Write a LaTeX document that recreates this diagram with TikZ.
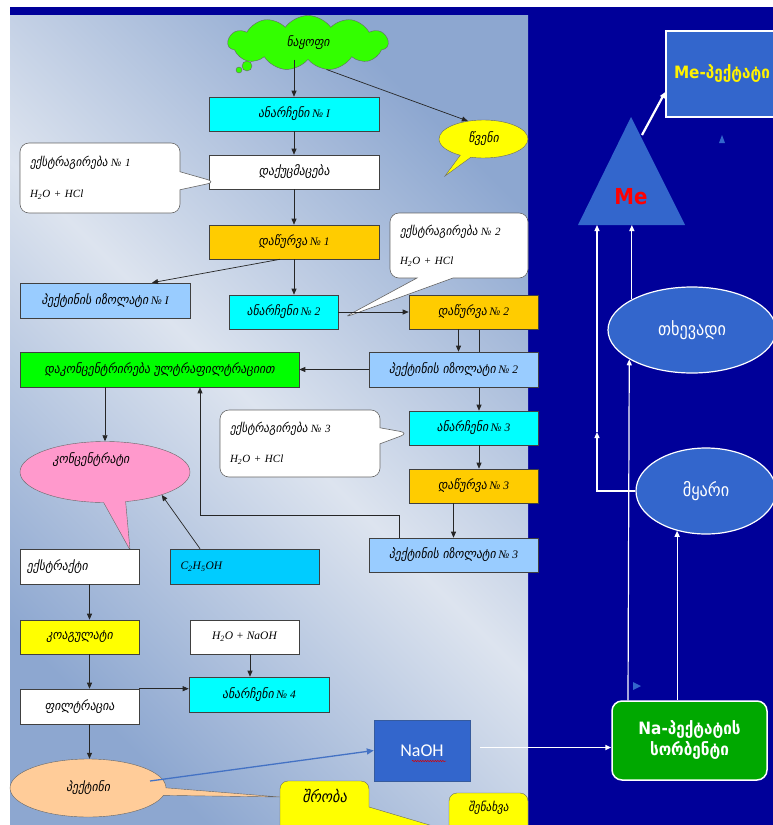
\documentclass[tikz,border=0pt]{standalone}
\usepackage{fontspec}
\setmainfont{Liberation Serif}
\newfontfamily\kafont[FakeSlant=0.18,Scale=1.13]{DejaVu Sans Condensed}
\newfontfamily\kbfont{DejaVu Sans Condensed}
\newfontfamily\calfont{Carlito}
\newcommand\geo[1]{{\kafont\upshape #1}}
\usetikzlibrary{shapes.geometric,shapes.symbols,shapes.callouts,arrows.meta,decorations.pathmorphing}

\definecolor{framenavy}{HTML}{000099}
\definecolor{panelhi}{HTML}{DDE4EF}
\definecolor{panello}{HTML}{8DA7D0}
\definecolor{boxcyan}{HTML}{00FFFF}
\definecolor{boxorange}{HTML}{FFCC00}
\definecolor{boxblue}{HTML}{99CCFF}
\definecolor{boxgreen}{HTML}{00FF00}
\definecolor{cloudgreen}{HTML}{33FF00}
\definecolor{boxpink}{HTML}{FF99CC}
\definecolor{boxpeach}{HTML}{FFCC99}
\definecolor{boxsky}{HTML}{00CCFF}
\definecolor{boxyellow}{HTML}{FFFF00}
\definecolor{midblue}{HTML}{3366CC}
\definecolor{nagreen}{HTML}{00A800}
\definecolor{linkblue}{HTML}{4472C4}

\pgfdeclarelayer{back}
\pgfsetlayers{back,main}

\tikzset{
  box/.style={draw=black!75, line width=0.6pt, inner sep=3pt, font=\itshape\fontsize{11.5}{13}\selectfont},
  note/.style={rectangle callout, rounded corners=9pt, draw=black!60, fill=white, line width=0.6pt,
    font=\itshape\fontsize{11}{13}\selectfont, align=left, inner xsep=10pt},
  arr/.style={-{Triangle[length=6pt,width=5pt]}, draw=black!85, line width=0.7pt},
  warr/.style={-{Triangle[length=6pt,width=5pt]}, draw=white, line width=1.2pt},
  bub/.style={ellipse, draw=white, line width=1.2pt, fill=midblue, text=white, font=\kbfont\fontsize{18}{20}\selectfont},
}

\begin{document}
\begin{tikzpicture}[x=1pt,y=-1pt]
\useasboundingbox (0,0) rectangle (773,825);

% frame and left panel
\begin{pgfonlayer}{back}
  \fill[framenavy] (10,7) rectangle (773,825);
  \shade[top color=panello, bottom color=panello, middle color=panelhi, shading angle=-45] (10,15) rectangle (528,825);
\end{pgfonlayer}

% fruit and juice
\node[cloud, cloud puffs=11, cloud puff arc=110, aspect=3, fill=cloudgreen, draw=black!60, minimum width=160pt,
  minimum height=55pt, inner sep=0pt, font=\itshape\fontsize{11.5}{13}\selectfont] (fruit) at (308,43) {\geo{ნაყოფი}};
\filldraw[fill=cloudgreen, draw=black!60] (247,66) circle (5) (239,70) circle (3);
\coordinate (p0) at (445,176);
\node[ellipse callout, callout absolute pointer={(p0)}, fill=boxyellow, draw=black!60, minimum width=89pt,
  minimum height=38pt, inner sep=0pt, font=\itshape\fontsize{11.5}{13}\selectfont] (juice) at (483.5,139) {\geo{წვენი}};

% first stage
\node[box, fill=boxcyan, minimum width=170pt, minimum height=34pt] (a1) at (294,114) {\geo{ანარჩენი} № I};
\node[box, fill=white, minimum width=170pt, minimum height=34pt] (crush) at (294,172) {\geo{დაქუცმაცება}};
\node[box, fill=boxorange, minimum width=170pt, minimum height=34pt] (d1) at (294,242) {\geo{დაწურვა} № 1};
\node[box, fill=boxblue, minimum width=170pt, minimum height=35pt] (i1) at (105,300.5) {\geo{პექტინის იზოლატი} № I};
\coordinate (p1) at (216,182);
\node[note, callout absolute pointer={(p1)}, callout pointer width=18pt, minimum width=160pt, minimum height=70pt,
  text width=140pt] (x1) at (100,178) {\geo{ექსტრაგირება} № 1\\[18pt]H\textsubscript{2}O + HCl};

% second stage
\node[box, fill=boxcyan, minimum width=109pt, minimum height=34pt] (a2) at (283.5,312) {\geo{ანარჩენი} № 2};
\node[box, fill=boxorange, minimum width=129pt, minimum height=34pt] (d2) at (473.5,312) {\geo{დაწურვა} № 2};
\node[box, fill=boxblue, minimum width=169pt, minimum height=35pt] (i2) at (453.5,369.5) {\geo{პექტინის იზოლატი} № 2};
\node[box, fill=boxgreen, minimum width=279pt, minimum height=35pt] (uf) at (159.5,369.5) {\geo{დაკონცენტრირება ულტრაფილტრაციით}};
\coordinate (p2) at (343,318);
\node[note, callout absolute pointer={(p2)}, callout pointer width=36pt, minimum width=138pt, minimum height=65pt,
  text width=118pt] (x2) at (459,245.5) {\geo{ექსტრაგირება} № 2\\[16pt]H\textsubscript{2}O + HCl};

% third stage
\node[box, fill=boxcyan, minimum width=129pt, minimum height=34pt] (a3) at (473.5,428) {\geo{ანარჩენი} № 3};
\node[box, fill=boxorange, minimum width=129pt, minimum height=34pt] (d3) at (473.5,486) {\geo{დაწურვა} № 3};
\node[box, fill=boxblue, minimum width=169pt, minimum height=34pt] (i3) at (453.5,555) {\geo{პექტინის იზოლატი} № 3};
\coordinate (p3) at (409,433);
\node[note, callout absolute pointer={(p3)}, callout pointer width=16pt, minimum width=160pt, minimum height=67pt,
  text width=140pt] (x3) at (300,443.5) {\geo{ექსტრაგირება} № 3\\[17pt]H\textsubscript{2}O + HCl};

% concentrate to pectin
\coordinate (p4) at (130,550);
\node[ellipse callout, callout absolute pointer={(p4)}, fill=boxpink, draw=black!60, minimum width=170pt,
  minimum height=61pt, label={[xshift=-14pt, yshift=12pt, font=\itshape\fontsize{11.5}{13}\selectfont]center:\geo{კონცენტრატი}}] (konc) at (105,472) {};
\node[box, fill=white, minimum width=119pt, minimum height=35pt, text width=105pt, align=left] (ext) at (79.5,566.5) {\geo{ექსტრაქტი}};
\node[box, fill=boxsky, minimum width=149pt, minimum height=35pt, text width=128pt, align=left] (eth) at (244.5,566.5) {C\textsubscript{2}H\textsubscript{5}OH};
\node[box, fill=boxyellow, minimum width=119pt, minimum height=34pt] (coag) at (79.5,637) {\geo{კოაგულატი}};
\node[box, fill=white, minimum width=109pt, minimum height=34pt] (hn) at (244.5,637) {H\textsubscript{2}O + NaOH};
\node[box, fill=boxcyan, minimum width=140pt, minimum height=35pt] (a4) at (259,694.5) {\geo{ანარჩენი} № 4};
\node[box, fill=white, minimum width=119pt, minimum height=35pt] (filt) at (79.5,706.5) {\geo{ფილტრაცია}};

% drying and storage
\coordinate (p6) at (480,840);
\node[rectangle callout, callout absolute pointer={(p6)}, callout pointer width=20pt, rounded corners=8pt,
  fill=boxyellow, draw=black!60, minimum width=89pt, minimum height=64pt,
  label={[anchor=north, yshift=-5pt, font=\itshape\fontsize{14}{16}\selectfont]north:\geo{შრობა}}] (dry) at (324.5,813) {};
\node[rectangle, rounded corners=8pt, fill=boxyellow, draw=black!60, minimum width=79pt, minimum height=52pt,
  label={[anchor=north, yshift=-5pt, font=\itshape\fontsize{11}{13}\selectfont]north:\geo{შენახვა}}] (store) at (488.5,819) {};
\coordinate (p5) at (280,797);
\node[ellipse callout, callout absolute pointer={(p5)}, fill=boxpeach, draw=black!60, minimum width=156pt,
  minimum height=58pt, font=\itshape\fontsize{11.5}{13}\selectfont] (pec) at (88,788) {\geo{პექტინი}};

\node[fill=midblue, draw=linkblue!80!black, minimum width=96pt, minimum height=61pt, text=white,
  font=\calfont\fontsize{18}{20}\selectfont] (naoh) at (422,750.5) {NaOH};
\draw[red!85!black, line width=0.5pt, decorate, decoration={snake, amplitude=0.7pt, segment length=2.5pt}]
  ([xshift=-10pt,yshift=-10.5pt]naoh.center) -- ([xshift=24pt,yshift=-10.5pt]naoh.center);

% right part
\node[fill=midblue, draw=white, line width=1.5pt, minimum width=134pt, minimum height=86pt, text width=118pt,
  align=left, text=yellow, font=\kbfont\bfseries\fontsize{17}{19}\selectfont] (mebox) at (733,74) {Me-პექტატი};
\fill[midblue] (578,225) -- (631,117) -- (685,225) -- cycle;
\node[text=red, font=\kbfont\bfseries\fontsize{22}{24}\selectfont] (me) at (631,197) {Me};
\coordinate (tb1) at (597,225);
\coordinate (tb2) at (632,225);
\coordinate (mid) at (597,432);
\coordinate (tside) at (642,135);
\node[bub, minimum width=168pt, minimum height=86pt] (thv) at (692,330) {თხევადი};
\node[bub, minimum width=140pt, minimum height=86pt] (mya) at (706,491) {მყარი};
\node[draw=white, line width=1.5pt, rounded corners=10pt, fill=nagreen, minimum width=155pt, minimum height=79pt,
  align=center, text=white, font=\kbfont\bfseries\fontsize{17}{21}\selectfont] (na) at (689.5,740.5) {Na-პექტატის\\სორბენტი};
\fill[midblue] (722,135) -- (725,143) -- (719,143) -- cycle;
\fill[midblue] (633,682) -- (641,686) -- (633,690) -- cycle;

% connectors
\draw[arr] (fruit.south -| a1.north) -- (a1.north);
\draw[arr] (fruit.-55) -- (juice.131);
\draw[arr] (a1) -- (crush);
\draw[arr] (crush) -- (d1);
\draw[arr] ([xshift=-14pt]d1.south) -- ([xshift=47pt]i1.north);
\draw[arr] (d1.south) -- (d1.south |- a2.north);
\draw[arr] (a2) -- (d2);
\draw[arr] ([xshift=-15pt]d2.south) -- ([xshift=-15pt]d2.south |- i2.north);
\begin{pgfonlayer}{back}
  \draw[arr] ([xshift=5.5pt]d2.south) -- ([xshift=5.5pt]a3.north);
\end{pgfonlayer}
\draw[arr] (i2) -- (uf);
\draw[arr] (uf.south -| konc.north) -- (konc.north);
\draw[arr] ([xshift=5.5pt]a3.south) -- ([xshift=5.5pt]d3.north);
\draw[arr] (d3.south -| i3.north) -- (i3.north);
\coordinate (turn) at (200,515);
\draw[arr] ([xshift=-54.5pt]i3.north) |- (turn) -- (turn |- uf.south);
\draw[arr] ([xshift=-44.5pt]eth.north) -- (konc.-22);
\draw[arr] ([xshift=10pt]ext.south) -- ([xshift=10pt]coag.north);
\draw[arr] ([xshift=10pt]coag.south) -- ([xshift=10pt]filt.north);
\draw[arr] ([xshift=5.5pt]hn.south) -- ([xshift=5.5pt]hn.south |- a4.north);
\draw[arr] (filt.north east) -- (filt.north east -| a4.west);
\draw[arr] ([xshift=10pt]filt.south) -- ([xshift=10pt]filt.south |- pec.north);
\draw[linkblue, line width=1.3pt, -{Triangle[length=7pt,width=6pt]}] ([xshift=62pt,yshift=7pt]pec.center) -- (naoh.west);
\draw[warr, line width=1.6pt] ([xshift=10pt,yshift=3pt]naoh.east) -- ([yshift=3pt]naoh.east -| na.west);

\draw[warr] (thv.153) -- (thv.153 |- tb2);
\draw[warr] ([xshift=-61.5pt]na.north) -- (thv.205);
\draw[warr] (mya.west) -| (mid);
\draw[warr] (mid) -- (tb1);
\draw[warr] (na.north -| mya.234) -- (mya.234);
\draw[warr, line width=2.2pt] (tside) -- ([yshift=-18pt]mebox.west);
\end{tikzpicture}
\end{document}
